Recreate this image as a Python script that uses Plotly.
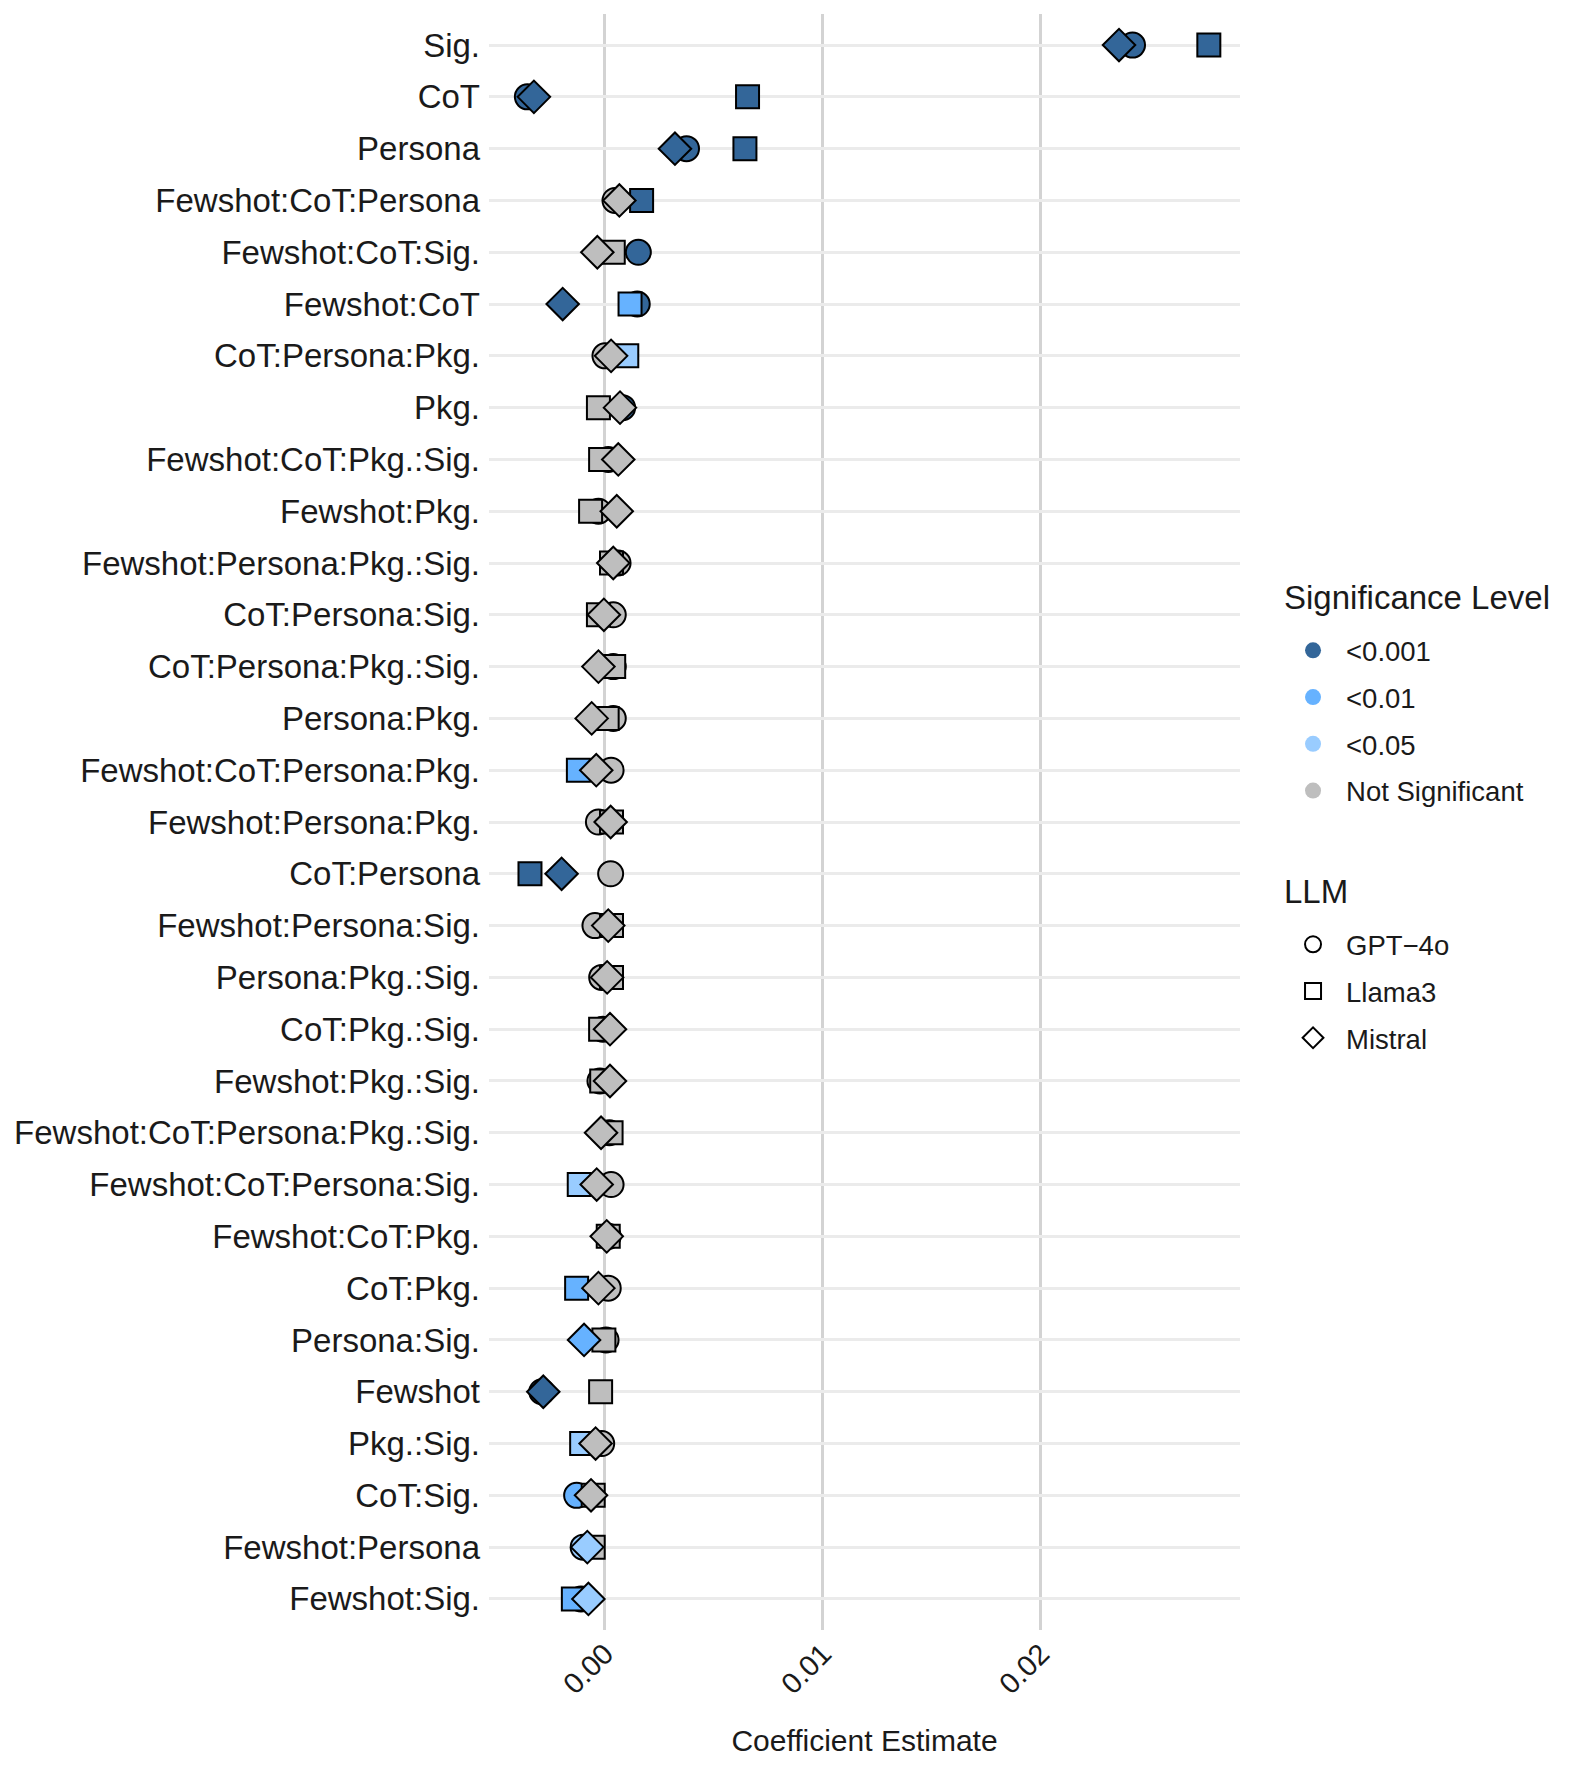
import plotly.graph_objects as go

terms = [
    "Sig.", "CoT", "Persona", "Fewshot:CoT:Persona", "Fewshot:CoT:Sig.", "Fewshot:CoT",
    "CoT:Persona:Pkg.", "Pkg.", "Fewshot:CoT:Pkg.:Sig.", "Fewshot:Pkg.",
    "Fewshot:Persona:Pkg.:Sig.", "CoT:Persona:Sig.", "CoT:Persona:Pkg.:Sig.", "Persona:Pkg.",
    "Fewshot:CoT:Persona:Pkg.", "Fewshot:Persona:Pkg.", "CoT:Persona", "Fewshot:Persona:Sig.",
    "Persona:Pkg.:Sig.", "CoT:Pkg.:Sig.", "Fewshot:Pkg.:Sig.", "Fewshot:CoT:Persona:Pkg.:Sig.",
    "Fewshot:CoT:Persona:Sig.", "Fewshot:CoT:Pkg.", "CoT:Pkg.", "Persona:Sig.", "Fewshot",
    "Pkg.:Sig.", "CoT:Sig.", "Fewshot:Persona", "Fewshot:Sig.",
]

gpt_est = [0.0242, -0.00356, 0.00374, 0.00046, 0.00153, 0.00148, 0.0, 0.00081, 0.00015, -0.0003,
           0.0006, 0.00038, 0.00038, 0.00038, 0.00028, -0.0003, 0.00026, -0.00046, -0.00015, -0.0001,
           -0.00023, 0.0002, 0.00028, 0.00015, 0.00015, 0.00005, -0.0029, -0.00015, -0.0013, -0.001,
           -0.0011]
gpt_sig = ["<0.001", "<0.001", "<0.001", "NS", "<0.001", "<0.001", "NS", "<0.001", "NS", "NS",
           "NS", "NS", "NS", "NS", "NS", "NS", "NS", "NS", "NS", "NS",
           "NS", "NS", "NS", "NS", "NS", "NS", "<0.001", "NS", "<0.01", "<0.05",
           "<0.05"]

llama_est = [0.0277, 0.00654, 0.00642, 0.00168, 0.00038, 0.00115, 0.001, -0.0003, -0.0002, -0.00066,
             0.0003, -0.0003, 0.0004, 0.0001, -0.00122, 0.0003, -0.00344, 0.0003, 0.0003, -0.0002,
             -0.00015, 0.00028, -0.00118, 0.00015, -0.0013, -0.00005, -0.0002, -0.00107, -0.00054, -0.00054,
             -0.00145]
llama_sig = ["<0.001", "<0.001", "<0.001", "<0.001", "NS", "<0.01", "<0.05", "NS", "NS", "NS",
             "NS", "NS", "NS", "NS", "<0.01", "NS", "<0.001", "NS", "NS", "NS",
             "NS", "NS", "<0.05", "NS", "<0.01", "NS", "NS", "<0.05", "NS", "NS",
             "<0.01"]

mistral_est = [0.02358, -0.00326, 0.00321, 0.00066, -0.00035, -0.00194, 0.00028, 0.00069, 0.00061, 0.00054,
               0.00038, -0.00005, -0.0003, -0.00061, -0.0004, 0.00026, -0.00199, 0.00015, 0.0001, 0.00023,
               0.00023, -0.00018, -0.00038, 0.00008, -0.0003, -0.00096, -0.00283, -0.00043, -0.00064, -0.00081,
               -0.00076]
mistral_sig = ["<0.001", "<0.001", "<0.001", "NS", "NS", "<0.001", "NS", "NS", "NS", "NS",
               "NS", "NS", "NS", "NS", "NS", "NS", "<0.001", "NS", "NS", "NS",
               "NS", "NS", "NS", "NS", "NS", "<0.01", "<0.001", "NS", "NS", "<0.05",
               "<0.05"]

sig_levels = ["<0.001", "<0.01", "<0.05", "NS"]
sig_labels = ["<0.001", "<0.01", "<0.05", "Not Significant"]
sig_colors = {"<0.001": "#336699", "<0.01": "#66B2FF", "<0.05": "#99CCFF", "NS": "#BEBEBE"}

llms = ["GPT\u22124o", "Llama3", "Mistral"]
symbols = ["circle", "square", "diamond"]
sizes = [25, 23, 25]

FONT = "Liberation Sans, Arial, sans-serif"
TXT = "#1a1a1a"

fig = go.Figure()

# data points, one trace per LLM, coloured by significance
for name, est, sig, sym, sz in zip(llms, [gpt_est, llama_est, mistral_est],
                                   [gpt_sig, llama_sig, mistral_sig], symbols, sizes):
    fig.add_trace(go.Scatter(
        x=est,
        y=terms,
        mode="markers",
        marker=dict(symbol=sym, size=sz, color=[sig_colors[s] for s in sig],
                    line=dict(color="black", width=2)),
        showlegend=False,
        name=name,
    ))

# legend entries for significance level
for i, (lvl, lab) in enumerate(zip(sig_levels, sig_labels)):
    fig.add_trace(go.Scatter(
        x=[None], y=[None], mode="markers",
        marker=dict(symbol="circle", size=16, color=sig_colors[lvl]),
        name=lab, legend="legend", legendgroup=f"sig{i}",
    ))

# legend entries for LLM shape
for i, (name, sym) in enumerate(zip(llms, symbols)):
    fig.add_trace(go.Scatter(
        x=[None], y=[None], mode="markers",
        marker=dict(symbol=sym + "-open", size=16, color="black", line=dict(width=2)),
        name=name, legend="legend2", legendgroup=f"llm{i}",
    ))

fig.update_xaxes(
    range=[-0.00532, 0.02913],
    tickvals=[0.0, 0.01, 0.02],
    ticktext=["0.00", "0.01", "0.02"],
    tickangle=-45,
    tickfont=dict(family=FONT, size=29, color=TXT),
    showgrid=True, gridcolor="#D3D3D3", gridwidth=2.5,
    zeroline=False, showline=False, ticks="",
    title=dict(text="Coefficient Estimate", font=dict(family=FONT, size=30, color=TXT), standoff=31),
)
fig.update_yaxes(
    categoryorder="array", categoryarray=terms,
    range=[len(terms) - 0.4, -0.6],
    tickfont=dict(family=FONT, size=33, color=TXT),
    showgrid=True, gridcolor="#EBEBEB", gridwidth=3,
    zeroline=False, showline=False, ticks="",
    ticklabelstandoff=8,
)

# legend titles
fig.add_annotation(text="Significance Level", xref="paper", yref="paper", x=1.0555, y=0.6392,
                   xanchor="left", yanchor="middle", showarrow=False,
                   font=dict(family=FONT, size=33, color=TXT))
fig.add_annotation(text="LLM", xref="paper", yref="paper", x=1.0555, y=0.4567,
                   xanchor="left", yanchor="middle", showarrow=False,
                   font=dict(family=FONT, size=33, color=TXT))

fig.update_layout(
    width=1570, height=1767,
    margin=dict(l=481, r=338, t=6, b=145),
    plot_bgcolor="white", paper_bgcolor="white",
    font=dict(family=FONT, color=TXT),
    legend=dict(
        x=1.0533, xanchor="left", y=0.6213, yanchor="top",
        font=dict(family=FONT, size=27.5, color=TXT),
        tracegroupgap=8, itemwidth=56,
    ),
    legend2=dict(
        x=1.0533, xanchor="left", y=0.4394, yanchor="top",
        font=dict(family=FONT, size=27.5, color=TXT),
        tracegroupgap=8, itemwidth=56,
    ),
)

fig.write_html("out.html")
